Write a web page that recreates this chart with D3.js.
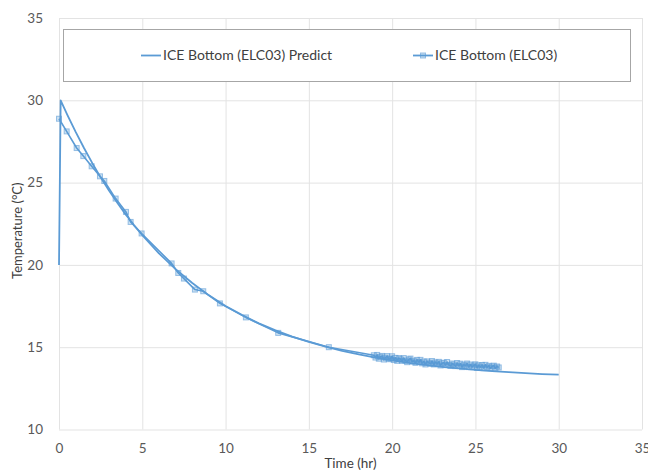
<!DOCTYPE html>
<html>
<head>
<meta charset="utf-8">
<script src="https://cdn.jsdelivr.net/npm/d3@7"></script>
<style>
  html, body { margin: 0; padding: 0; background: #fff; }
  svg { display: block; font-family: Lato, "Open Sans", sans-serif; }
</style>
</head>
<body>
<svg id="chart" width="648" height="472"></svg>
<script>
// Predicted bottom temperature (hr, °C)
const predictTime = [0, 0.1, 0.5, 1, 1.5, 2, 2.5, 3, 3.5, 4, 4.5, 5, 6, 7, 8, 9, 10, 11, 12, 13, 14, 15, 16, 17, 18, 19, 20, 21, 22, 23, 24, 25, 26, 27, 28, 29, 30];
const predictTemp = [20, 30.0, 29.12, 28.08, 27.10, 26.18, 25.32, 24.52, 23.78, 23.07, 22.42, 21.81, 20.70, 19.74, 18.90, 18.15, 17.50, 16.95, 16.45, 16.02, 15.64, 15.32, 15.03, 14.78, 14.56, 14.37, 14.20, 14.05, 13.92, 13.81, 13.71, 13.62, 13.55, 13.48, 13.42, 13.37, 13.33];

// Measured bottom temperature, sparse readings early on
const measTimeEarly = [0, 0.46, 1.06, 1.46, 1.96, 2.46, 2.72, 3.4, 4.02, 4.3, 4.96, 6.76, 7.16, 7.5, 8.16, 8.66, 9.66, 11.22, 13.16, 16.2];
const measTempEarly = [28.88, 28.11, 27.10, 26.61, 25.99, 25.38, 25.10, 24.03, 23.22, 22.61, 21.91, 20.09, 19.51, 19.17, 18.50, 18.40, 17.66, 16.81, 15.87, 15.0];

// Measured bottom temperature, continuous logging
const measTimeLate = [18.9, 19.0, 19.1, 19.2, 19.3, 19.4, 19.5, 19.6, 19.7, 19.8, 19.9, 20.0, 20.1, 20.2, 20.3, 20.4, 20.5, 20.6, 20.7, 20.8, 20.9, 21.0, 21.1, 21.2, 21.3, 21.4, 21.5, 21.6, 21.7, 21.8, 21.9, 22.0, 22.1, 22.2, 22.3, 22.4, 22.5, 22.6, 22.7, 22.8, 22.9, 23.0, 23.1, 23.2, 23.3, 23.4, 23.5, 23.6, 23.7, 23.8, 23.9, 24.0, 24.1, 24.2, 24.3, 24.4, 24.5, 24.6, 24.7, 24.8, 24.9, 25.0, 25.1, 25.2, 25.3, 25.4, 25.5, 25.6, 25.7, 25.8, 25.9, 26.0, 26.1, 26.2, 26.3, 26.4];
const measTempLate = [14.51, 14.37, 14.53, 14.30, 14.42, 14.47, 14.25, 14.36, 14.46, 14.27, 14.31, 14.45, 14.22, 14.35, 14.17, 14.34, 14.27, 14.17, 14.34, 14.18, 14.09, 14.26, 14.31, 14.12, 14.18, 14.05, 14.23, 14.10, 14.23, 14.02, 14.13, 13.95, 14.14, 14.06, 13.99, 14.16, 13.95, 14.08, 14.01, 14.11, 13.89, 14.02, 14.06, 13.91, 14.10, 13.92, 13.86, 14.01, 13.95, 13.85, 14.04, 13.87, 14.00, 13.79, 13.94, 13.88, 14.01, 13.79, 13.95, 13.81, 13.89, 13.96, 13.74, 13.90, 13.81, 13.92, 13.73, 13.93, 13.78, 13.87, 13.73, 13.83, 13.88, 13.72, 13.83, 13.77];

const xTicks = [0, 5, 10, 15, 20, 25, 30, 35];
const yTicks = [10, 15, 20, 25, 30, 35];

const seriesNames = ["ICE Bottom (ELC03) Predict", "ICE Bottom (ELC03)"];
const xTitle = "Time (hr)";
const yTitle = "Temperature (°C)";

const predict = predictTime.map((t, i) => ({ t, v: predictTemp[i] }));
const measured = measTimeEarly.map((t, i) => ({ t, v: measTempEarly[i] }))
  .concat(measTimeLate.map((t, i) => ({ t, v: measTempLate[i] })));

const svg = d3.select("#chart");
const plot = { left: 59, right: 642, top: 18, bottom: 429.5 };

const x = d3.scaleLinear().domain([0, 35]).range([plot.left, plot.right]);
const y = d3.scaleLinear().domain([10, 35]).range([plot.bottom, plot.top]);

const blue = "#5b9bd5";
const gridColor = "#e3e3e3";
const textColor = "#595959";
const fontSize = 13.5;

// Gridlines
svg.append("g")
  .attr("transform", `translate(0,${plot.bottom})`)
  .call(d3.axisBottom(x).tickValues(xTicks).tickSize(-(plot.bottom - plot.top)).tickFormat(""))
  .call(g => g.select(".domain").remove())
  .call(g => g.selectAll("line").attr("stroke", gridColor).attr("stroke-width", 1));
svg.append("g")
  .attr("transform", `translate(${plot.left},0)`)
  .call(d3.axisLeft(y).tickValues(yTicks).tickSize(-(plot.right - plot.left)).tickFormat(""))
  .call(g => g.select(".domain").remove())
  .call(g => g.selectAll("line").attr("stroke", gridColor).attr("stroke-width", 1));

// Tick labels
svg.append("g")
  .attr("transform", `translate(0,${plot.bottom + 11})`)
  .call(d3.axisBottom(x).tickValues(xTicks).tickSize(0).tickFormat(d3.format("d")))
  .call(g => g.select(".domain").remove())
  .call(g => g.selectAll("text").attr("fill", textColor).attr("font-size", fontSize).attr("font-family", "Lato, sans-serif"));
svg.append("g")
  .attr("transform", `translate(${plot.left - 13},0)`)
  .call(d3.axisLeft(y).tickValues(yTicks).tickSize(0).tickFormat(d3.format("d")))
  .call(g => g.select(".domain").remove())
  .call(g => g.selectAll("text").attr("fill", textColor).attr("font-size", fontSize).attr("font-family", "Lato, sans-serif"));

// Axis titles
svg.append("text")
  .attr("x", (plot.left + plot.right) / 2)
  .attr("y", 468)
  .attr("text-anchor", "middle")
  .attr("fill", "#404040")
  .attr("font-size", fontSize)
  .text(xTitle);
svg.append("text")
  .attr("transform", `translate(22,${(plot.top + plot.bottom) / 2 + 7}) rotate(-90)`)
  .attr("text-anchor", "middle")
  .attr("fill", "#404040")
  .attr("font-size", 13)
  .text(yTitle);

const line = d3.line().x(d => x(d.t)).y(d => y(d.v));

// Predicted curve
svg.append("path")
  .datum(predict)
  .attr("fill", "none")
  .attr("stroke", blue)
  .attr("stroke-width", 1.8)
  .attr("stroke-linejoin", "round")
  .attr("d", line);

// Measured curve with square markers
svg.append("path")
  .datum(measured)
  .attr("fill", "none")
  .attr("stroke", blue)
  .attr("stroke-width", 1.6)
  .attr("stroke-linejoin", "round")
  .attr("d", line);

const ms = 5;
svg.append("g").selectAll("rect")
  .data(measured)
  .join("rect")
  .attr("x", d => x(d.t) - ms / 2)
  .attr("y", d => y(d.v) - ms / 2)
  .attr("width", ms)
  .attr("height", ms)
  .attr("fill", "rgba(91,155,213,0.3)")
  .attr("stroke", "rgba(91,155,213,0.6)")
  .attr("stroke-width", 1);

// Legend
const legend = svg.append("g");
legend.append("rect")
  .attr("x", 63.5).attr("y", 29.5)
  .attr("width", 567).attr("height", 52)
  .attr("fill", "#fff")
  .attr("stroke", "#a6a6a6")
  .attr("stroke-width", 1);

const items = [
  { name: seriesNames[0], x0: 141, marker: false },
  { name: seriesNames[1], x0: 413, marker: true }
];
const ly = 55.5;
items.forEach(it => {
  legend.append("line")
    .attr("x1", it.x0).attr("x2", it.x0 + 20)
    .attr("y1", ly).attr("y2", ly)
    .attr("stroke", blue).attr("stroke-width", 1.8);
  if (it.marker) {
    legend.append("rect")
      .attr("x", it.x0 + 10 - 2.5).attr("y", ly - 2.5)
      .attr("width", 5).attr("height", 5)
      .attr("fill", "rgba(91,155,213,0.3)")
      .attr("stroke", "rgba(91,155,213,0.6)");
  }
  legend.append("text")
    .attr("x", it.x0 + 22)
    .attr("y", ly)
    .attr("dy", "0.35em")
    .attr("fill", "#404040")
    .attr("font-size", 14)
    .text(it.name);
});
</script>
</body>
</html>
